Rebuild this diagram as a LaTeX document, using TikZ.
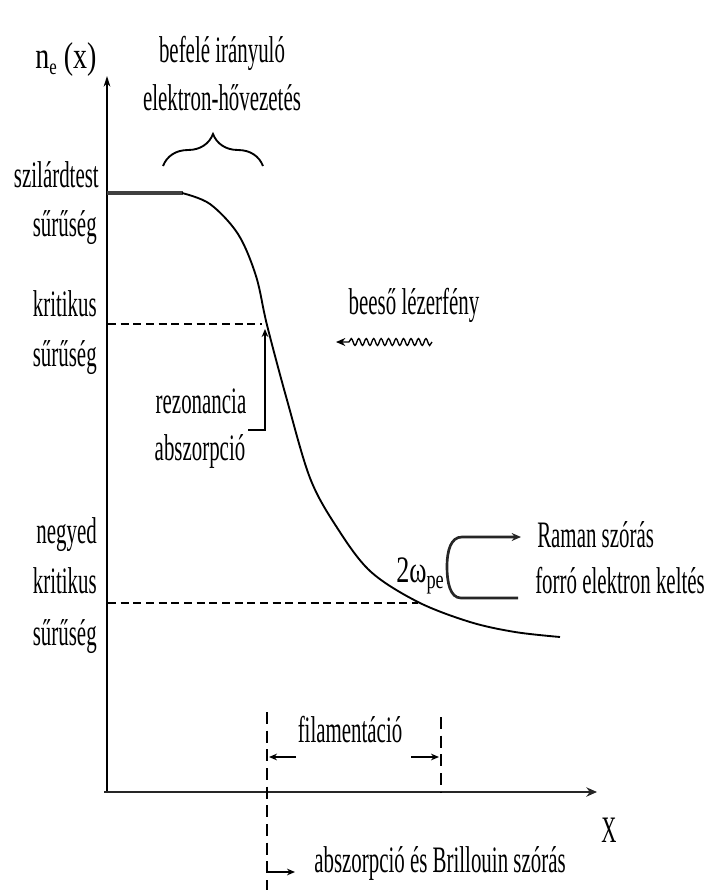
\documentclass[tikz,border=0pt]{standalone}
\usepackage{fontspec}
\setmainfont{Liberation Serif}
\usetikzlibrary{arrows.meta,decorations.pathmorphing,decorations.pathreplacing}
\newcommand{\hsc}[2][0.56]{\scalebox{#1}[1]{#2}}
\begin{document}
\begin{tikzpicture}[x=0.75pt,y=-0.75pt,
  lbl/.style={inner sep=0pt, font=\fontsize{28}{32}\selectfont},
  axisline/.style={line width=1.1pt, -{Stealth[length=8pt,width=5pt]}},
  xaxisline/.style={line width=2.2pt, draw=black!85, -{Stealth[length=8pt,width=7pt]}},
  plateau/.style={line width=2.8pt, draw=black!75},
  profile/.style={line width=1.4pt},
  critdash/.style={line width=1.6pt, dash pattern=on 6pt off 3.5pt},
  vdash/.style={line width=0.9pt, dash pattern=on 9pt off 5pt},
  arr/.style={line width=1.2pt, -{Stealth[length=6pt,width=5pt]}},
  bracket/.style={line width=2pt, draw=black!85},
  bracestyle/.style={line width=1.4pt, decorate, decoration={brace, amplitude=24pt, aspect=0.5}},
  wave/.style={line width=1pt, decorate, decoration={snake, amplitude=2.6pt, segment length=5.6pt, post length=7pt}, -{Stealth[length=7pt,width=6pt]}}]
\useasboundingbox (0,0) rectangle (712,890);

% axes
\coordinate (O) at (107,792);
\coordinate (Ytop) at (107,76);
\coordinate (Xstart) at (104,792);
\coordinate (Xend) at (597,792);
\draw[axisline] (O) -- (Ytop);
\draw[xaxisline] (Xstart) -- (Xend);
\node[lbl, anchor=base] (ylab) at (66,68) {\hsc[0.75]{n\raisebox{-0.35ex}{\scalebox{0.6}{e}} (x)}};
\node[lbl, anchor=base] (xlab) at (609,842) {\hsc{X}};

% top annotation
\node[lbl, anchor=base] (top1) at (222,62) {\hsc{befelé irányuló}};
\node[lbl, anchor=base] (top2) at (222,110) {\hsc{elektron-hővezetés}};
\coordinate (bl) at (163,166);
\coordinate (br) at (263,166);
\draw[bracestyle] (bl) -- (br);

% left labels
\node[lbl, anchor=base east] (s1) at (99,187) {\hsc{szilárdtest}};
\node[lbl, anchor=base east] (s2) at (97,236) {\hsc{sűrűség}};
\node[lbl, anchor=base east] (k1) at (97,316) {\hsc{kritikus}};
\node[lbl, anchor=base east] (k2) at (97,366) {\hsc{sűrűség}};
\node[lbl, anchor=base east] (n1) at (97,543) {\hsc{negyed}};
\node[lbl, anchor=base east] (n2) at (97,593) {\hsc{kritikus}};
\node[lbl, anchor=base east] (n3) at (97,645) {\hsc{sűrűség}};

% density profile
\coordinate (P0) at (107,193);
\coordinate (P1) at (183,193);
\draw[plateau] (P0) -- (P1);
\draw[profile] plot[smooth, tension=0.55] coordinates {(182,193) (210,204) (238,234) (256,276) (267,325) (287,400) (310,478) (336,526) (370,571) (418,602) (470,622) (515,632) (560,637)};

% dashed density levels
\coordinate (C0) at (108,324);
\coordinate (C1) at (262,324);
\draw[critdash] (C0) -- (C1);
\coordinate (Q0) at (108,603);
\coordinate (Q1) at (418,603);
\draw[critdash] (Q0) -- (Q1);

% incident laser
\node[lbl, anchor=base] (laser) at (414,314) {\hsc{beeső lézerfény}};
\coordinate (w1) at (432,342);
\coordinate (w2) at (336,342);
\draw[wave] (w1) -- (w2);

% resonance absorption
\node[lbl, anchor=base] (r1) at (201,413) {\hsc{rezonancia}};
\node[lbl, anchor=base] (r2) at (200,460) {\hsc{abszorpció}};
\coordinate (ra) at (248,430);
\coordinate (rb) at (265,430);
\coordinate (rc) at (265,329);
\draw[arr] (ra) -- (rb) -- (rc);

% 2 omega_pe
\node[lbl, anchor=base west] (om) at (396,582) {\hsc[0.7]{2ω\raisebox{-0.35ex}{\scalebox{0.7}{pe}}}};
\coordinate (b1) at (518,598);
\coordinate (b2) at (461,598);
\coordinate (b3) at (447,567);
\coordinate (b4) at (462,537);
\coordinate (b5) at (521,537);
\draw[bracket, -{Stealth[length=7pt,width=6pt]}] (b1) -- (b2) .. controls (450,598) and (447,582) .. (b3) .. controls (447,550) and (451,537) .. (b4) -- (b5);
\node[lbl, anchor=base west] (raman) at (537,547) {\hsc{Raman szórás}};
\node[lbl, anchor=base west] (hot) at (535,593) {\hsc{forró elektron keltés}};

% filamentation
\coordinate (f1t) at (267,712);
\coordinate (f1b) at (267,890);
\coordinate (f2t) at (441,717);
\coordinate (f2b) at (441,792);
\draw[vdash] (f1t) -- (f1b);
\draw[vdash] (f2t) -- (f2b);
\node[lbl, anchor=base] (fil) at (350,742) {\hsc{filamentáció}};
\coordinate (fa1) at (296,757);
\coordinate (fa2) at (269,757);
\coordinate (fb1) at (411,757);
\coordinate (fb2) at (439,757);
\draw[arr] (fa1) -- (fa2);
\draw[arr] (fb1) -- (fb2);

% absorption and Brillouin
\coordinate (ab1) at (268,872);
\coordinate (ab2) at (295,872);
\draw[arr] (ab1) -- (ab2);
\node[lbl, anchor=base west] (abs) at (314,872) {\hsc{abszorpció és Brillouin szórás}};
\end{tikzpicture}
\end{document}
